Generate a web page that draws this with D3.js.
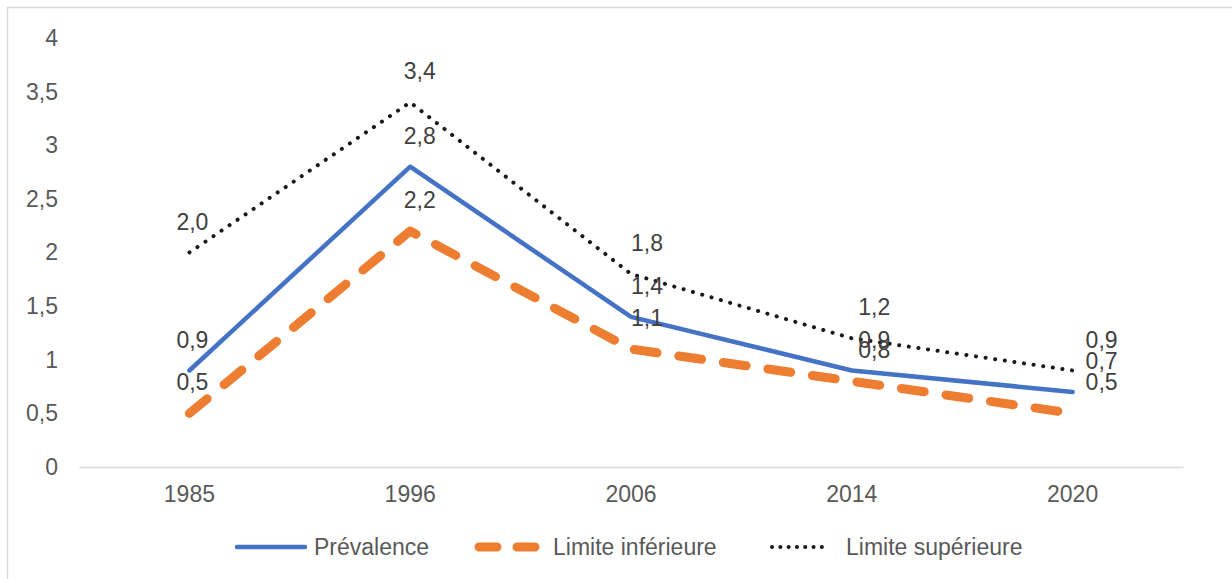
<!DOCTYPE html>
<html>
<head>
<meta charset="utf-8">
<script src="https://cdn.jsdelivr.net/npm/d3@7"></script>
<style>
  body { margin: 0; background: #fff; }
  text { font-family: "Liberation Sans", Arial, sans-serif; }
</style>
</head>
<body>
<script>
'use strict';

// chart values
let years = ["1985", "1996", "2006", "2014", "2020"];
let prevalence = [0.9, 2.8, 1.4, 0.9, 0.7];
let lowerLimit = [0.5, 2.2, 1.1, 0.8, 0.5];
let upperLimit = [2.0, 3.4, 1.8, 1.2, 0.9];
let yTicks = [0, 0.5, 1, 1.5, 2, 2.5, 3, 3.5, 4];
let seriesNames = ["Prévalence", "Limite inférieure", "Limite supérieure"];

(function() {
  let fontSize = 23;
  let svg = d3.select('body').append('svg')
    .attr('width', 1232)
    .attr('height', 579);

  // chart frame (only left and top edges visible)
  svg.append('path')
    .attr('d', 'M7.5,579 L7.5,7.5 L1232,7.5')
    .attr('fill', 'none')
    .attr('stroke', '#d9d9d9')
    .attr('stroke-width', 1.5);

  let xScale = d3.scaleBand().domain(years).range([79, 1183]);
  let yScale = d3.scaleLinear().domain([0, 4]).range([467, 38]);
  let fmt = v => d3.format(".1f")(v).replace('.', ',');

  // y axis labels
  let yAxis = d3.axisLeft(yScale).tickValues(yTicks)
    .tickFormat(v => String(v).replace('.', ',')).tickSize(0).tickPadding(21);
  let gy = svg.append('g').attr('transform', 'translate(79,0)').call(yAxis);
  gy.select('.domain').remove();
  gy.selectAll('text').attr('font-size', fontSize).attr('fill', '#595959')
    .attr('font-family', '"Liberation Sans", Arial, sans-serif');

  // x axis
  let xAxis = d3.axisBottom(xScale).tickSize(0).tickPadding(19);
  let gx = svg.append('g').attr('transform', 'translate(0,467)').call(xAxis);
  gx.select('.domain').attr('stroke', '#d9d9d9').attr('stroke-width', 1.5);
  gx.selectAll('text').attr('font-size', fontSize).attr('fill', '#595959')
    .attr('font-family', '"Liberation Sans", Arial, sans-serif');

  let cx = d => xScale(d) + xScale.bandwidth() / 2;

  let series = [
    { name: seriesNames[0], values: prevalence, color: '#4472C4', width: 4.5, dash: null, legendDash: null },
    { name: seriesNames[1], values: lowerLimit, color: '#ED7D31', width: 9, dash: '23,22', legendDash: '18,20' },
    { name: seriesNames[2], values: upperLimit, color: '#1a1a1a', width: 4, dash: '0.1,9.6', legendDash: '0.1,8.2' }
  ];

  let line = d3.line()
    .x((v, i) => cx(years[i]))
    .y(v => yScale(v));

  // draw order: lower, prevalence, upper
  [series[1], series[0], series[2]].forEach(s => {
    svg.append('path')
      .datum(s.values)
      .attr('d', line)
      .attr('fill', 'none')
      .attr('stroke', s.color)
      .attr('stroke-width', s.width)
      .attr('stroke-linecap', 'round')
      .attr('stroke-linejoin', 'round')
      .attr('stroke-dasharray', s.dash);
  });

  // data labels, above each point
  series.forEach(s => {
    svg.selectAll(null)
      .data(s.values)
      .enter()
      .append('text')
      .attr('x', (v, i) => cx(years[i]) + 3 + 6.5 * i)
      .attr('y', v => yScale(v) - 31)
      .attr('dy', '0.35em')
      .attr('text-anchor', 'middle')
      .attr('font-size', fontSize)
      .attr('fill', '#404040')
      .text(fmt);
  });

  // legend
  let sampleX = [[237, 305], [479, 536], [772, 830]];
  let textX = [314, 553, 846];
  let legend = svg.append('g');
  series.forEach((s, i) => {
    legend.append('line')
      .attr('x1', sampleX[i][0]).attr('x2', sampleX[i][1])
      .attr('y1', 547).attr('y2', 547)
      .attr('stroke', s.color)
      .attr('stroke-width', s.width)
      .attr('stroke-linecap', 'round')
      .attr('stroke-dasharray', s.legendDash);
    legend.append('text')
      .attr('x', textX[i])
      .attr('y', 547)
      .attr('dy', '0.35em')
      .attr('font-size', fontSize)
      .attr('fill', '#595959')
      .text(s.name);
  });
})();
</script>
</body>
</html>
